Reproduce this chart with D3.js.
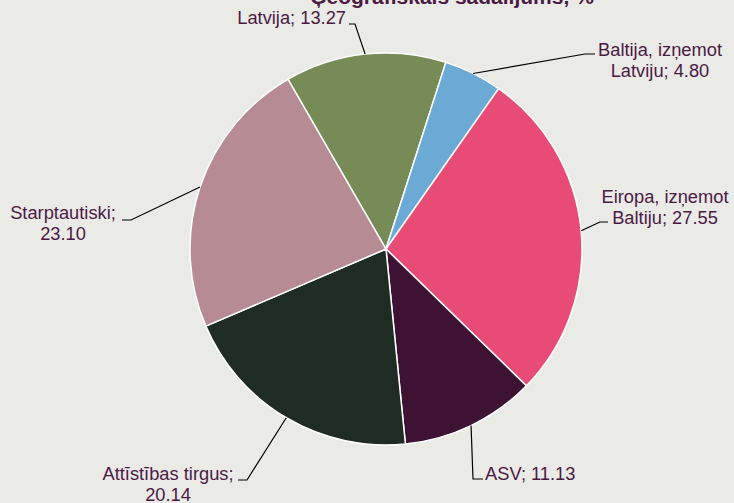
<!DOCTYPE html>
<html>
<head>
<meta charset="utf-8">
<script src="https://cdn.jsdelivr.net/npm/d3@7"></script>
<style>
  html, body { margin: 0; padding: 0; background: #EAEAE6; }
  svg { display: block; font-family: "Liberation Sans", Arial, sans-serif; }
</style>
</head>
<body>
<svg id="chart"></svg>
<script>
var W = 734, H = 503;

// data
var regions = ["Latvija", "Baltija, izņemot Latviju", "Eiropa, izņemot Baltiju", "ASV", "Attīstības tirgus", "Starptautiski"];
var shares = [13.27, 4.80, 27.55, 11.13, 20.14, 23.10];
var colors = ["#778B56", "#6BAAD4", "#E84B76", "#3D1232", "#1E2C24", "#B68B94"];
var labelLines = [
  ["Latvija; 13.27"],
  ["Baltija, izņemot", "Latviju; 4.80"],
  ["Eiropa, izņemot", "Baltiju; 27.55"],
  ["ASV; 11.13"],
  ["Attīstības tirgus;", "20.14"],
  ["Starptautiski;", "23.10"]
];

// label layout: elbow point, text end of the leader, text anchor/position
var labelLayout = [
  {elbow: [355, 24], end: [349, 24], anchor: "end", x: 346, y: 24},
  {elbow: [585, 54], end: [595, 54], anchor: "middle", x: 660, y: 56},
  {elbow: [600, 222], end: [608, 222], anchor: "middle", x: 665, y: 203},
  {elbow: [473, 479], end: [483, 479], anchor: "start", x: 485, y: 480},
  {elbow: [247, 480], end: [238, 480], anchor: "middle", x: 168, y: 480},
  {elbow: [131, 220], end: [122, 220], anchor: "middle", x: 63, y: 219}
];

var cx = 386, cy = 249, radius = 196;
var startDeg = -30;

var svg = d3.select("#chart").attr("width", W).attr("height", H);
svg.append("rect").attr("width", W).attr("height", H).attr("fill", "#EAEAE6");

svg.append("text")
    .attr("x", 452).attr("y", 4)
    .attr("text-anchor", "middle")
    .attr("font-size", 21).attr("font-weight", "bold")
    .attr("fill", "#4B1A44")
    .text("Ģeogrāfiskais sadalījums, %");

var pie = d3.pie()
    .sort(null)
    .value(function(d) { return d; })
    .startAngle(startDeg * Math.PI / 180)
    .endAngle((startDeg + 360) * Math.PI / 180);

var arcs = pie(shares);
var arc = d3.arc().innerRadius(0).outerRadius(radius);

var g = svg.append("g").attr("transform", "translate(" + cx + "," + cy + ")");
g.selectAll("path.slice")
    .data(arcs)
  .enter().append("path")
    .attr("class", "slice")
    .attr("d", arc)
    .attr("fill", function(d, i) { return colors[i]; })
    .attr("stroke", "#ffffff")
    .attr("stroke-width", 1.5)
    .attr("stroke-linejoin", "round");

// leader lines from slice edge midpoint
arcs.forEach(function(d, i) {
  var mid = (d.startAngle + d.endAngle) / 2;
  var px = cx + radius * Math.sin(mid), py = cy - radius * Math.cos(mid);
  var L = labelLayout[i];
  svg.append("polyline")
      .attr("points", [[px, py], L.elbow, L.end].map(function(p) { return p.join(","); }).join(" "))
      .attr("fill", "none")
      .attr("stroke", "#000")
      .attr("stroke-width", 1.2);

  var t = svg.append("text")
      .attr("text-anchor", L.anchor)
      .attr("font-size", 18.3)
      .attr("fill", "#4B1A44");
  labelLines[i].forEach(function(s, k) {
    t.append("tspan").attr("x", L.x).attr("y", L.y + k * 21).text(s);
  });
});
</script>
</body>
</html>
